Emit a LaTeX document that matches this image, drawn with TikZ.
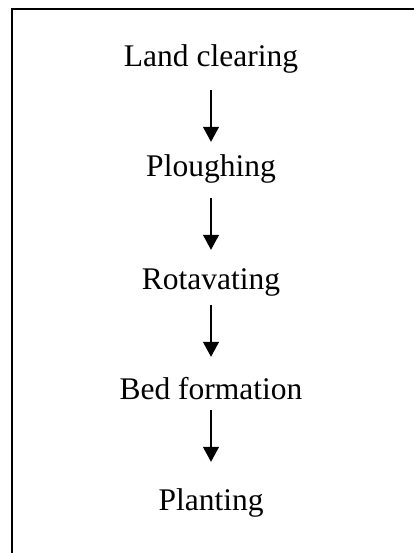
\documentclass[tikz,border=0pt]{standalone}
\usepackage{fontspec}
\setmainfont{Liberation Serif}
\usetikzlibrary{arrows.meta}

\begin{document}
\begin{tikzpicture}[x=1pt,y=-1pt]

          \tikzstyle{stepNode} = [inner sep=0pt, anchor=base, text height=22pt, text depth=7pt, font=\fontsize{31.5}{38}\selectfont];
          \tikzstyle{stepEdge} = [line width=1.2pt, -{Triangle[length=15pt,width=16pt]}];
          \tikzstyle{frameLine} = [line width=2.5pt];

          \useasboundingbox (0,0) rectangle (414,553);
          \draw[frameLine] (12,553) -- (12,9) -- (414,9);

          \node[stepNode] (clear) at (211,67) {Land clearing};
          \node[stepNode] (plough) at (211,177) {Ploughing};
          \node[stepNode] (rotate) at (211,289) {Rotavating};
          \node[stepNode] (bed) at (211,399) {Bed formation};
          \node[stepNode] (plant) at (211,510) {Planting};

          \draw[stepEdge, shorten <=16pt, shorten >=13pt] (clear) -- (plough);
          \draw[stepEdge, shorten <=14pt, shorten >=17pt] (plough) -- (rotate);
          \draw[stepEdge, shorten <=9pt, shorten >=20pt] (rotate) -- (bed);
          \draw[stepEdge, shorten <=4pt, shorten >=26pt] (bed) -- (plant);
        \end{tikzpicture}
\end{document}
